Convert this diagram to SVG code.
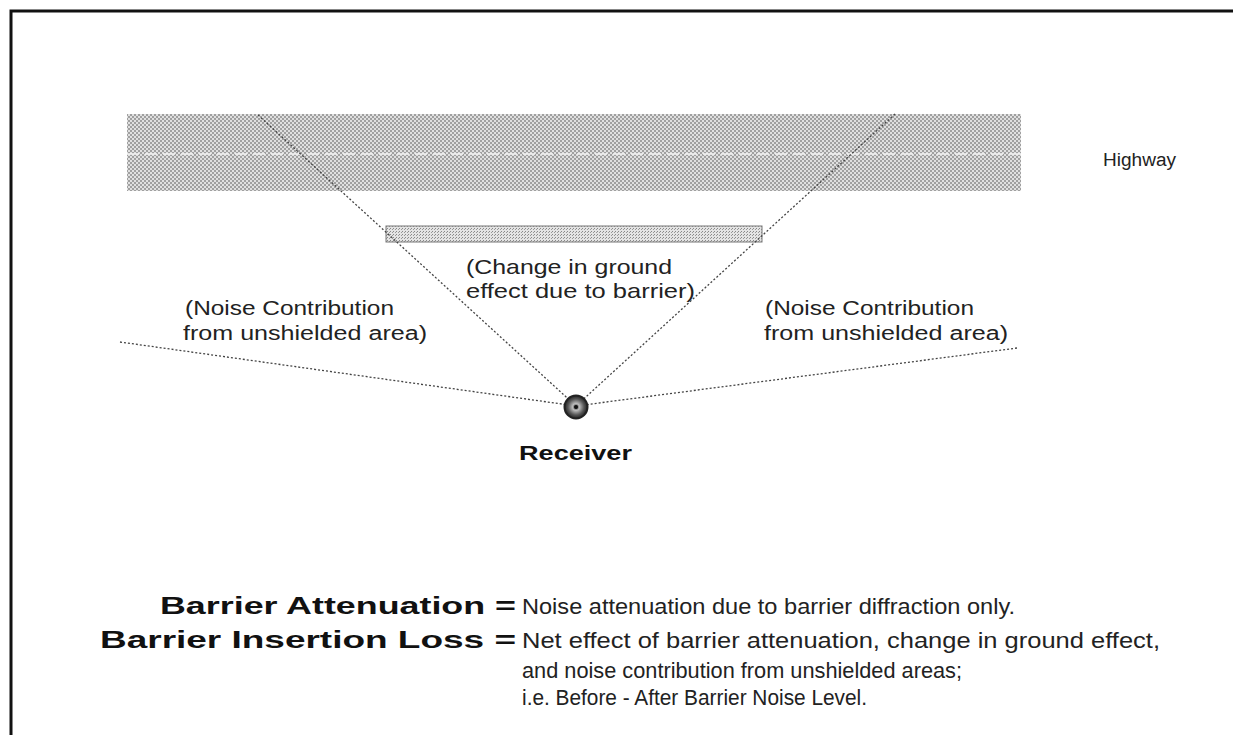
<svg xmlns="http://www.w3.org/2000/svg" width="1233" height="735" viewBox="0 0 1233 735">
<defs>
<pattern id="hatch" width="4" height="4" patternUnits="userSpaceOnUse">
<rect width="4" height="4" fill="#e0e0e0"/>
<rect width="2" height="2" fill="#a0a0a0"/>
<rect x="2" y="2" width="2" height="2" fill="#a0a0a0"/>
</pattern>
<pattern id="fine" width="3" height="3" patternUnits="userSpaceOnUse">
<rect width="3" height="3" fill="#e4e4e4"/>
<rect width="1" height="1" fill="#888"/>
<rect x="2" y="1" width="1" height="1" fill="#999"/>
</pattern>
<radialGradient id="rcv">
<stop offset="0" stop-color="#222"/>
<stop offset="0.3" stop-color="#bbb"/>
<stop offset="0.7" stop-color="#555"/>
<stop offset="1" stop-color="#222"/>
</radialGradient>
</defs>
<style>
.t{font-family:"Liberation Sans",Arial,sans-serif;fill:#222;}
.b{font-weight:bold;fill:#111;}
.ray{stroke:#444;stroke-width:1.3;stroke-dasharray:2 2;fill:none;}
</style>
<rect width="1233" height="735" fill="#fff"/>
<g id="frame">
<path d="M11 735 V11 H1233" fill="none" stroke="#111" stroke-width="3"/>
</g>
<g id="highway">
<rect x="127" y="114" width="894" height="77" fill="url(#hatch)"/>
<line x1="127" y1="154" x2="1021" y2="154" stroke="#f4f4f4" stroke-width="1.5" stroke-dasharray="12 6"/>
<text class="t" x="1103" y="166" font-size="18" textLength="73" lengthAdjust="spacingAndGlyphs">Highway</text>
</g>
<g id="barrier">
<rect x="386" y="226" width="376" height="16" fill="url(#fine)" stroke="#777" stroke-width="1"/>
</g>
<g id="connectors">
<line class="ray" x1="258" y1="115" x2="576" y2="406"/>
<line class="ray" x1="895" y1="114" x2="576" y2="406"/>
<line class="ray" x1="120" y1="342" x2="576" y2="406"/>
<line class="ray" x1="1017" y1="348" x2="576" y2="406"/>
</g>
<g id="receiver">
<circle cx="576" cy="407" r="11.5" fill="url(#rcv)" stroke="#222" stroke-width="2"/>
<circle cx="576" cy="407" r="2" fill="#111"/>
<text class="t b" x="519" y="460" font-size="21" textLength="113" lengthAdjust="spacingAndGlyphs">Receiver</text>
</g>
<g id="labels">
<text class="t" x="466" y="274" font-size="21" textLength="206" lengthAdjust="spacingAndGlyphs">(Change in ground</text>
<text class="t" x="466" y="298" font-size="21" textLength="229" lengthAdjust="spacingAndGlyphs">effect due to barrier)</text>
<text class="t" x="185" y="315" font-size="20" textLength="209" lengthAdjust="spacingAndGlyphs">(Noise Contribution</text>
<text class="t" x="183" y="340" font-size="20" textLength="244" lengthAdjust="spacingAndGlyphs">from unshielded area)</text>
<text class="t" x="765" y="315" font-size="20" textLength="209" lengthAdjust="spacingAndGlyphs">(Noise Contribution</text>
<text class="t" x="764" y="340" font-size="20" textLength="244" lengthAdjust="spacingAndGlyphs">from unshielded area)</text>
</g>
<g id="definitions">
<text class="t b" x="160" y="614" font-size="23" textLength="356" lengthAdjust="spacingAndGlyphs">Barrier Attenuation =</text>
<text class="t" x="522" y="614" font-size="22" textLength="493" lengthAdjust="spacingAndGlyphs">Noise attenuation due to barrier diffraction only.</text>
<text class="t b" x="100" y="648" font-size="23" textLength="416" lengthAdjust="spacingAndGlyphs">Barrier Insertion Loss =</text>
<text class="t" x="522" y="648" font-size="22" textLength="638" lengthAdjust="spacingAndGlyphs">Net effect of barrier attenuation, change in ground effect,</text>
<text class="t" x="522" y="678" font-size="22" textLength="440" lengthAdjust="spacingAndGlyphs">and noise contribution from unshielded areas;</text>
<text class="t" x="522" y="705" font-size="22" textLength="345" lengthAdjust="spacingAndGlyphs">i.e. Before - After Barrier Noise Level.</text>
</g>
</svg>
